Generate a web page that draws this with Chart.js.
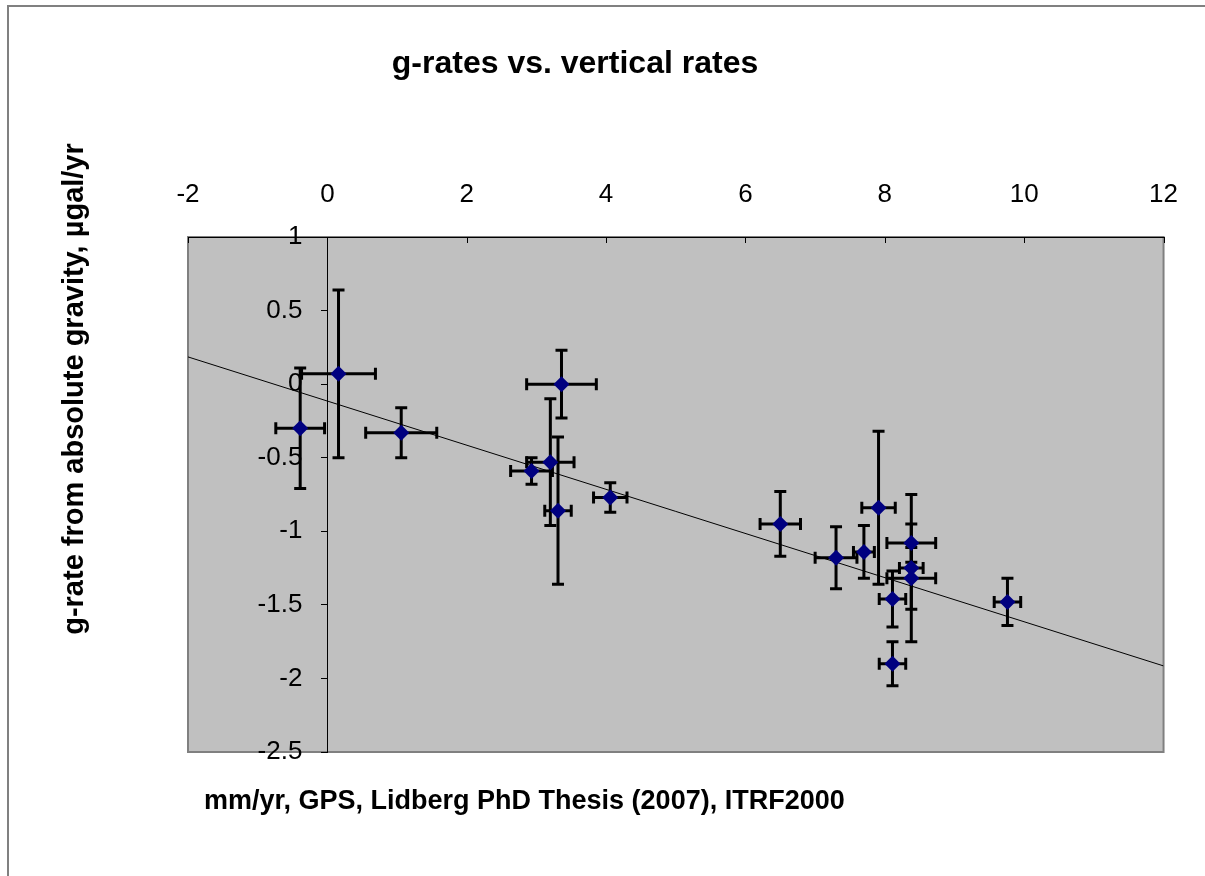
<!DOCTYPE html>
<html>
<head>
<meta charset="utf-8">
<title>g-rates vs. vertical rates</title>
<script src="https://cdn.jsdelivr.net/npm/chart.js@4.4.1/dist/chart.umd.min.js"></script>
<style>
  html, body { margin: 0; padding: 0; background: #fff; }
  canvas { display: block; }
</style>
</head>
<body>
<canvas id="gChart" width="1205" height="876"></canvas>
<script>
// vertical rate (mm/yr, GPS) and g-rate (µgal/yr) per station
const vertRates = [-0.39, 0.16, 1.06, 2.93, 3.20, 3.36, 3.31, 4.06, 6.50, 7.30, 7.70, 7.91, 8.38, 8.38, 8.38, 8.11, 8.11, 9.76];
const gRates    = [-0.30, 0.07, -0.33, -0.59, -0.53, 0.00, -0.86, -0.77, -0.95, -1.18, -1.14, -0.84, -1.08, -1.25, -1.32, -1.46, -1.90, -1.48];
// error bars (+/-)
const vertErr   = [0.35, 0.53, 0.51, 0.30, 0.34, 0.50, 0.19, 0.24, 0.29, 0.30, 0.15, 0.24, 0.35, 0.17, 0.35, 0.19, 0.19, 0.19];
const gErr      = [0.41, 0.57, 0.17, 0.09, 0.43, 0.23, 0.50, 0.10, 0.22, 0.21, 0.18, 0.52, 0.13, 0.50, 0.21, 0.19, 0.15, 0.16];

// linear trend line
const fitSlope = -0.15;
const fitIntercept = -0.115;
const fitRange = [-2, 12];

const xTicks = [-2, 0, 2, 4, 6, 8, 10, 12];
const yTicks = [1, 0.5, 0, -0.5, -1, -1.5, -2, -2.5];

const FONT = '"Liberation Sans", Arial, sans-serif';

const points = vertRates.map((v, i) => ({ x: v, y: gRates[i] }));
const trend = fitRange.map(v => ({ x: v, y: fitIntercept + fitSlope * v }));

// excel style frame, error bars, inner ticks and titles
const excelLook = {
    id: 'excelLook',
    beforeDraw(chart) {
        const { ctx, chartArea: a } = chart;
        ctx.save();
        ctx.fillStyle = '#fff';
        ctx.fillRect(0, 0, chart.width, chart.height);
        ctx.strokeStyle = '#808080';
        ctx.lineWidth = 2;
        ctx.strokeRect(8, 6, chart.width + 20, chart.height + 20);
        ctx.fillStyle = '#c0c0c0';
        ctx.fillRect(a.left, a.top, a.right - a.left, a.bottom - a.top);
        ctx.strokeRect(a.left, a.top, a.right - a.left, a.bottom - a.top);
        ctx.restore();
    },
    afterDatasetDraw(chart, args) {
        if (args.index !== 1) return;
        const { ctx } = chart;
        const xs = chart.scales.x, ys = chart.scales.y;
        ctx.save();
        ctx.strokeStyle = '#000';
        ctx.lineWidth = 3;
        vertRates.forEach((v, i) => {
            const px = xs.getPixelForValue(v);
            const py = ys.getPixelForValue(gRates[i]);
            const x0 = xs.getPixelForValue(v - vertErr[i]);
            const x1 = xs.getPixelForValue(v + vertErr[i]);
            const y0 = ys.getPixelForValue(gRates[i] + gErr[i]);
            const y1 = ys.getPixelForValue(gRates[i] - gErr[i]);
            ctx.beginPath();
            ctx.moveTo(x0, py); ctx.lineTo(x1, py);
            ctx.moveTo(x0, py - 6); ctx.lineTo(x0, py + 6);
            ctx.moveTo(x1, py - 6); ctx.lineTo(x1, py + 6);
            ctx.moveTo(px, y0); ctx.lineTo(px, y1);
            ctx.moveTo(px - 6, y0); ctx.lineTo(px + 6, y0);
            ctx.moveTo(px - 6, y1); ctx.lineTo(px + 6, y1);
            ctx.stroke();
        });
        ctx.restore();
    },
    afterDraw(chart) {
        const { ctx, chartArea: a } = chart;
        const xs = chart.scales.x, ys = chart.scales.y;
        ctx.save();
        // x ticks point down into the plot
        ctx.strokeStyle = '#000';
        ctx.lineWidth = 1;
        ctx.beginPath();
        xTicks.forEach(v => {
            const px = Math.round(xs.getPixelForValue(v)) + 0.5;
            ctx.moveTo(px, a.top);
            ctx.lineTo(px, a.top + 6);
        });
        ctx.stroke();

        ctx.fillStyle = '#000';
        ctx.textBaseline = 'middle';

        // y labels sit left of the axis that crosses at x = 0
        ctx.textAlign = 'right';
        ctx.font = '26px ' + FONT;
        const axisX = xs.getPixelForValue(0);
        yTicks.forEach(v => ctx.fillText(String(v), axisX - 25, ys.getPixelForValue(v)));

        ctx.textAlign = 'center';
        ctx.font = 'bold 32px ' + FONT;
        ctx.fillText('g-rates vs. vertical rates', 575, 64);

        ctx.textAlign = 'left';
        ctx.font = 'bold 27px ' + FONT;
        ctx.fillText('mm/yr, GPS, Lidberg PhD Thesis (2007), ITRF2000', 204, 802);

        ctx.translate(75, 389);
        ctx.rotate(-Math.PI / 2);
        ctx.textAlign = 'center';
        ctx.font = 'bold 29px ' + FONT;
        ctx.fillText('g-rate from absolute gravity, µgal/yr', 0, 0);
        ctx.restore();
    }
};

new Chart(document.getElementById('gChart'), {
    type: 'scatter',
    data: {
        datasets: [
            {
                label: 'g-rate',
                data: points,
                pointStyle: 'rectRot',
                pointRadius: 8,
                pointHoverRadius: 8,
                backgroundColor: '#000080',
                borderColor: '#000080',
                borderWidth: 0
            },
            {
                type: 'line',
                label: 'trend',
                data: trend,
                borderColor: '#000',
                borderWidth: 1,
                pointRadius: 0,
                fill: false
            }
        ]
    },
    options: {
        responsive: false,
        animation: false,
        layout: { padding: { left: 188, right: 39, top: 177, bottom: 124 } },
        plugins: {
            legend: { display: false },
            title: { display: false },
            tooltip: { enabled: false }
        },
        scales: {
            x: {
                type: 'linear',
                position: 'top',
                min: -2,
                max: 12,
                afterBuildTicks: s => { s.ticks = xTicks.map(v => ({ value: v })); },
                afterFit: s => { s.height = 60; },
                ticks: {
                    font: { family: FONT, size: 26 },
                    color: '#000',
                    padding: 27,
                    maxRotation: 0,
                    autoSkip: false,
                    callback: v => String(v)
                },
                grid: { display: true, drawOnChartArea: false, drawTicks: false },
                border: { display: true, color: '#000', width: 1 }
            },
            y: {
                type: 'linear',
                position: { x: 0 },
                min: -2.5,
                max: 1,
                afterBuildTicks: s => { s.ticks = yTicks.map(v => ({ value: v })); },
                ticks: { display: false },
                grid: { display: true, drawOnChartArea: false, drawTicks: true, tickLength: 6, color: '#000', lineWidth: 1 },
                border: { display: true, color: '#000', width: 1 }
            }
        }
    },
    plugins: [excelLook]
});
</script>
</body>
</html>
